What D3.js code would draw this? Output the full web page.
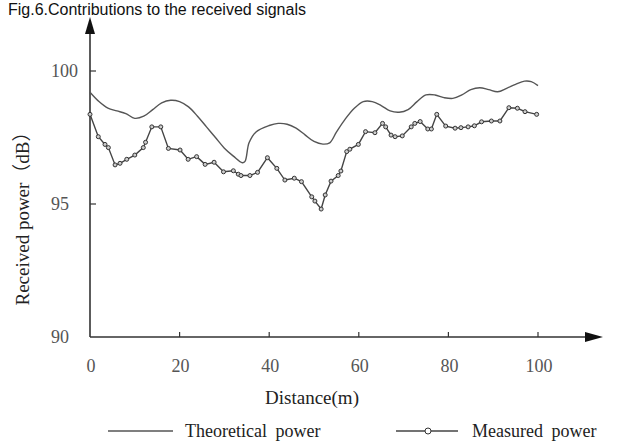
<!DOCTYPE html>
<head>
  <meta charset="utf-8">
  <title>Received power</title>
  <script src="https://d3js.org/d3.v7.min.js"></script>
  <style>
    body { margin: 0; background: #fff; }
    svg { display: block; }
    .tick-label { font-family: "Liberation Serif", "DejaVu Serif", serif; font-size: 18px; fill: #555; }
    .axis-title { font-family: "Liberation Serif", "Noto Sans CJK SC", serif; font-size: 19px; fill: #222; }
    .legend { font-family: "Liberation Serif", serif; font-size: 18px; fill: #222; word-spacing: 4px; }
  </style>
</head>
<body>
  <svg width="631" height="446"></svg>

  <script>
  // data
  var theoDist  = [0, 2, 4, 6, 8, 10, 12, 14, 16, 18, 20, 22, 24, 26, 28, 30, 32, 34, 34.6, 35.5, 37, 40, 42, 44, 46, 48, 50, 52, 53.5, 55, 57, 59, 61, 63, 65, 67, 69, 71, 73, 75, 77, 79, 81, 83, 85, 87, 89, 91, 93, 95, 97, 98.5, 100];
  var theoPower = [99.2, 98.85, 98.6, 98.5, 98.4, 98.22, 98.3, 98.55, 98.8, 98.9, 98.85, 98.65, 98.3, 97.9, 97.5, 97.1, 96.8, 96.55, 96.6, 97.3, 97.7, 97.95, 98.03, 98.0, 97.85, 97.6, 97.35, 97.25, 97.3, 97.7, 98.2, 98.6, 98.85, 98.85, 98.7, 98.5, 98.45, 98.55, 98.85, 99.1, 99.1, 99.0, 98.97, 99.1, 99.3, 99.37, 99.3, 99.22, 99.35, 99.5, 99.62, 99.6, 99.45];

  var measDist  = [0, 1.85, 3.35, 4.1, 5.6, 6.7, 8.2, 10, 11.9, 12.4, 13.8, 15.8, 17.5, 20.1, 21.9, 23.8, 25.7, 27.7, 29.8, 32, 33.1, 33.7, 35.7, 37.4, 39.6, 41.7, 43.5, 45.6, 47.2, 49.5, 50.2, 51.6, 52.5, 53.8, 55.4, 56, 57.3, 58, 59.9, 61.5, 63.6, 65.3, 66, 67.2, 68.1, 69.7, 71.7, 72.5, 73.7, 75.4, 76.2, 77.4, 79.4, 81.5, 82.8, 84.4, 85.8, 87.4, 89.6, 91.5, 93.5, 95.4, 97.1, 99.7];
  var measPower = [98.37, 97.53, 97.24, 97.12, 96.47, 96.53, 96.68, 96.84, 97.12, 97.32, 97.9, 97.9, 97.09, 97.03, 96.68, 96.78, 96.49, 96.57, 96.21, 96.25, 96.12, 96.07, 96.07, 96.19, 96.74, 96.34, 95.9, 95.97, 95.84, 95.27, 95.11, 94.81, 95.34, 95.86, 96.07, 96.24, 96.97, 97.06, 97.24, 97.72, 97.68, 98.03, 97.9, 97.59, 97.53, 97.56, 97.9, 98.03, 98.1, 97.82, 97.82, 98.37, 97.93, 97.85, 97.87, 97.9, 97.94, 98.09, 98.12, 98.12, 98.62, 98.6, 98.47, 98.37];

  var xTicks = [0, 20, 40, 60, 80, 100];
  var yTicks = [90, 95, 100];

  var svg = d3.select("svg");

  var x = d3.scaleLinear().domain([0, 100]).range([90, 538]);
  var y = d3.scaleLinear().domain([90, 100]).range([337, 71]);

  // axes with arrows
  var axisColor = "#333";
  svg.append("line")
      .attr("x1", x(0)).attr("y1", y(90))
      .attr("x2", 588).attr("y2", y(90))
      .attr("stroke", axisColor).attr("stroke-width", 1.6);
  svg.append("path")
      .attr("d", "M603," + y(90) + "L585," + (y(90) - 5) + "L585," + (y(90) + 5) + "Z")
      .attr("fill", "#111");
  svg.append("line")
      .attr("x1", x(0)).attr("y1", y(90))
      .attr("x2", x(0)).attr("y2", 32)
      .attr("stroke", axisColor).attr("stroke-width", 1.6);
  svg.append("path")
      .attr("d", "M" + x(0) + ",17L" + (x(0) - 5) + ",34L" + (x(0) + 5) + ",34Z")
      .attr("fill", "#111");

  // title at the very top edge
  svg.append("text")
      .attr("x", 8)
      .attr("y", 15)
      .attr("font-family", "Liberation Sans, Arial, sans-serif")
      .attr("font-size", 16)
      .attr("fill", "#111")
      .text("Fig.6.Contributions to the received signals");

  // ticks
  svg.selectAll(".xt")
    .data(xTicks.slice(1))
    .enter().append("line")
      .attr("x1", function(d) { return x(d); })
      .attr("x2", function(d) { return x(d); })
      .attr("y1", y(90)).attr("y2", y(90) - 5)
      .attr("stroke", axisColor).attr("stroke-width", 1.2);
  svg.selectAll(".yt")
    .data(yTicks.slice(1))
    .enter().append("line")
      .attr("x1", x(0)).attr("x2", x(0) + 6)
      .attr("y1", function(d) { return y(d); })
      .attr("y2", function(d) { return y(d); })
      .attr("stroke", axisColor).attr("stroke-width", 1.2);

  svg.selectAll(".xl")
    .data(xTicks)
    .enter().append("text")
      .attr("class", "tick-label")
      .attr("x", function(d) { return x(d) + 1; })
      .attr("y", 372)
      .attr("text-anchor", "middle")
      .text(function(d) { return d; });
  svg.selectAll(".yl")
    .data(yTicks)
    .enter().append("text")
      .attr("class", "tick-label")
      .attr("x", 51)
      .attr("y", function(d) { return y(d) + 6; })
      .text(function(d) { return d; });

  svg.append("text")
      .attr("class", "axis-title")
      .attr("x", 312)
      .attr("y", 404)
      .attr("text-anchor", "middle")
      .text("Distance(m)");
  svg.append("text")
      .attr("class", "axis-title")
      .attr("font-size", 20)
      .attr("transform", "translate(29,214) rotate(-90)")
      .attr("text-anchor", "middle")
      .text("Received power（dB）");

  // curves
  var theo = theoDist.map(function(d, i) { return [d, theoPower[i]]; });
  var meas = measDist.map(function(d, i) { return [d, measPower[i]]; });

  var smooth = d3.line()
      .x(function(d) { return x(d[0]); })
      .y(function(d) { return y(d[1]); })
      .curve(d3.curveCatmullRom.alpha(0.5));
  var straight = d3.line()
      .x(function(d) { return x(d[0]); })
      .y(function(d) { return y(d[1]); });

  svg.append("path")
      .datum(theo)
      .attr("d", smooth)
      .attr("fill", "none")
      .attr("stroke", "#555")
      .attr("stroke-width", 1.4);

  svg.append("path")
      .datum(meas)
      .attr("d", straight)
      .attr("fill", "none")
      .attr("stroke", "#444")
      .attr("stroke-width", 1.4);

  svg.selectAll(".pt")
    .data(meas)
    .enter().append("circle")
      .attr("cx", function(d) { return x(d[0]); })
      .attr("cy", function(d) { return y(d[1]); })
      .attr("r", 2)
      .attr("fill", "#ccc")
      .attr("stroke", "#333")
      .attr("stroke-width", 1);

  // legend
  var ly = 431;
  svg.append("line")
      .attr("x1", 108).attr("x2", 173).attr("y1", ly).attr("y2", ly)
      .attr("stroke", "#555").attr("stroke-width", 1.4);
  svg.append("text")
      .attr("class", "legend")
      .attr("x", 185).attr("y", ly + 6)
      .text("Theoretical power");
  svg.append("line")
      .attr("x1", 396).attr("x2", 458).attr("y1", ly).attr("y2", ly)
      .attr("stroke", "#444").attr("stroke-width", 1.4);
  svg.append("circle")
      .attr("cx", 428).attr("cy", ly).attr("r", 3)
      .attr("fill", "#fff").attr("stroke", "#333").attr("stroke-width", 1);
  svg.append("text")
      .attr("class", "legend")
      .attr("x", 472).attr("y", ly + 6)
      .text("Measured power");
  </script>
</body>
